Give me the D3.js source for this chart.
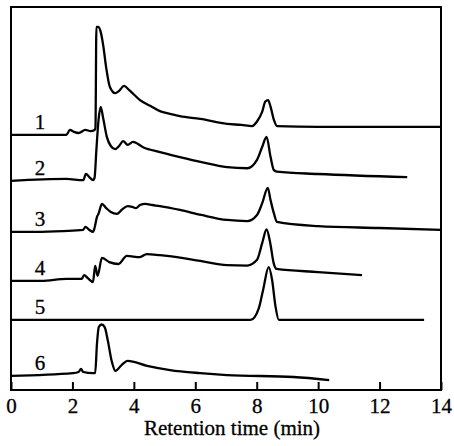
<!DOCTYPE html>
<html>
<head>
<meta charset="utf-8">
<script src="https://cdn.jsdelivr.net/npm/d3@7"></script>
<style>
  html, body { margin: 0; padding: 0; background: #fff; }
  svg { display: block; }
  text { font-family: "Liberation Serif", "DejaVu Serif", serif; fill: #000; }
</style>
</head>
<body>
<svg id="chart" width="454" height="446"></svg>
<script>
// ---- data ----
const xTicks = [0, 2, 4, 6, 8, 10, 12, 14];
const xTitle = "Retention time (min)";
const traceLabels = ["1", "2", "3", "4", "5", "6"];

// [retention time (min), detector response (a.u., stacked)]
const trace1 = [[0,66.6],[1.8,66.6],[1.92,67.9],[2.05,67.4],[2.2,67.1],[2.42,67.9],[2.6,67.6],[2.72,67.9],[2.75,68.4],[2.78,94.8],[2.84,94.8],[2.92,93.5],[3.0,90.1],[3.1,84.1],[3.22,79.1],[3.39,77.5],[3.52,78.1],[3.68,79.4],[3.85,78.3],[4.2,75.7],[4.53,74.2],[4.85,72.8],[5.08,72.3],[5.5,71.5],[6.16,70.8],[7.03,69.5],[7.5,69.2],[7.85,68.9],[8.01,70.1],[8.18,72.7],[8.28,75.3],[8.37,75.7],[8.45,74.0],[8.56,70.5],[8.66,68.9],[10,68.7],[12,68.7],[14,68.7]];
const trace2 = [[0,54.6],[1.8,55.1],[2.35,54.8],[2.44,56.4],[2.55,55.6],[2.67,54.8],[2.72,55.4],[2.78,62.7],[2.85,70.5],[2.92,73.9],[3.0,71.0],[3.12,66.1],[3.25,63.7],[3.39,62.9],[3.52,63.7],[3.65,65.0],[3.8,64.0],[3.97,64.8],[4.3,63.4],[4.85,62.1],[5.5,60.8],[6.2,59.5],[7.03,58.2],[7.69,57.9],[8.01,60.1],[8.18,63.5],[8.32,66.1],[8.45,60.9],[8.56,57.4],[8.66,57.0],[10,56.4],[12.9,55.6]];
const trace3 = [[0,41.3],[0.8,41.3],[1.7,41.5],[2.35,41.8],[2.42,42.6],[2.55,41.8],[2.67,41.3],[2.72,42.3],[2.8,45.2],[2.85,46.0],[2.96,48.6],[3.1,47.5],[3.25,46.5],[3.45,46.0],[3.6,47.0],[3.8,48.0],[3.95,47.8],[4.07,47.5],[4.2,48.3],[4.37,48.6],[4.6,48.3],[4.85,48.0],[5.5,47.0],[6.2,45.7],[7.03,44.4],[7.69,44.1],[8.01,45.7],[8.18,48.8],[8.36,52.8],[8.45,49.6],[8.56,46.1],[8.66,43.9],[10,42.8],[12,42.3],[14,41.8]];
const trace4 = [[0,28.5],[1.0,28.5],[1.8,29.0],[2.3,29.0],[2.38,30.0],[2.5,29.2],[2.67,28.2],[2.74,32.4],[2.82,29.8],[2.96,34.5],[3.2,33.4],[3.5,32.9],[3.77,35.0],[4.2,34.7],[4.42,35.5],[4.85,35.2],[5.08,35.0],[6.16,33.7],[7.03,32.6],[7.69,32.5],[8.01,34.0],[8.18,38.4],[8.32,41.9],[8.44,38.4],[8.55,33.2],[8.65,31.6],[10,30.8],[11.43,30.0]];
const trace5 = [[0,18.3],[7.8,18.3],[8.07,21.4],[8.21,26.2],[8.39,32.1],[8.5,28.8],[8.61,21.9],[8.72,18.3],[13.45,18.3]];
const trace6 = [[0,3.7],[2.02,4.4],[2.2,4.7],[2.28,5.5],[2.35,4.7],[2.67,4.4],[2.74,4.4],[2.8,12.2],[2.86,16.5],[2.95,17.1],[3.05,16.4],[3.15,13.0],[3.28,7.5],[3.4,5.0],[3.6,6.5],[3.8,7.6],[4.43,6.3],[5.18,5.2],[6.16,4.4],[7.03,3.9],[9.2,3.4],[10.36,2.6]];
const traces = [trace1, trace2, trace3, trace4, trace5, trace6];

// ---- layout ----
const mLeft = 11, mRight = 441, mTop = 7, mBottom = 390;
const fontSize = 21;

const svg = d3.select("#chart");
const x = d3.scaleLinear().domain([0, 14]).range([mLeft, mRight]);
const y = d3.scaleLinear().domain([0, 100]).range([mBottom, mTop]);

// frame
svg.append("rect")
  .attr("x", mLeft).attr("y", mTop)
  .attr("width", mRight - mLeft).attr("height", mBottom - mTop)
  .attr("fill", "none").attr("stroke", "#000").attr("stroke-width", 2);

// x axis with inward ticks
const xAxis = d3.axisBottom(x)
  .tickValues(xTicks)
  .tickFormat(d3.format("d"))
  .tickSizeInner(-8)
  .tickSizeOuter(0)
  .tickPadding(8);

const gx = svg.append("g")
  .attr("transform", `translate(0,${mBottom})`)
  .call(xAxis);
gx.select(".domain").remove();
gx.selectAll(".tick line").attr("stroke", "#000").attr("stroke-width", 2);
gx.selectAll(".tick text")
  .attr("font-family", "'Liberation Serif', serif")
  .attr("font-size", fontSize)
  .attr("fill", "#000")
  .attr("stroke", "#000")
  .attr("stroke-width", 0.3);

svg.append("text")
  .attr("x", 232).attr("y", 435)
  .attr("text-anchor", "middle")
  .attr("font-size", fontSize)
  .attr("stroke", "#000")
  .attr("stroke-width", 0.3)
  .text(xTitle);

// traces
const line = d3.line()
  .x(d => x(d[0]))
  .y(d => y(d[1]))
  .curve(d3.curveMonotoneX);

svg.append("g").selectAll("path")
  .data(traces)
  .join("path")
  .attr("d", line)
  .attr("fill", "none")
  .attr("stroke", "#000")
  .attr("stroke-width", 2.3)
  .attr("stroke-linejoin", "round");

// trace labels
svg.append("g").selectAll("text")
  .data(traces)
  .join("text")
  .attr("x", 40)
  .attr("y", d => y(d[0][1]) - 6)
  .attr("text-anchor", "middle")
  .attr("font-size", fontSize)
  .attr("stroke", "#000")
  .attr("stroke-width", 0.3)
  .text((d, i) => traceLabels[i]);
</script>
</body>
</html>
